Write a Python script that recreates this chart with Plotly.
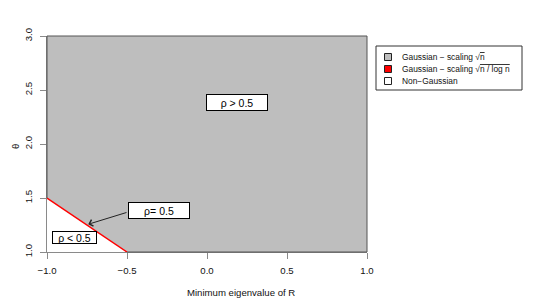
import plotly.graph_objects as go

# ---- data ----
gauss_x = [-1.0, -1.0, 1.0, 1.0, -0.5]      # Gaussian (sqrt n) region boundary
gauss_y = [1.5, 3.0, 3.0, 1.0, 1.0]
red_x = [-1.0, -0.5]                        # rho = 0.5 boundary
red_y = [1.5, 1.0]
x_ticks = [-1.0, -0.5, 0.0, 0.5, 1.0]
y_ticks = [1.0, 1.5, 2.0, 2.5, 3.0]
legend_labels = [
    "Gaussian \u2212 scaling \u221a<span style='text-decoration:overline'>n</span>",
    "Gaussian \u2212 scaling \u221a<span style='text-decoration:overline'>n / log n</span>",
    "Non\u2212Gaussian",
]
legend_colors = ["#BEBEBE", "#FF0000", "#FFFFFF"]
box_labels = ["\u03c1 > 0.5", "\u03c1= 0.5", "\u03c1 < 0.5"]
box_x = [0.19, -0.303, -0.831]
box_y = [2.38, 1.38, 1.134]
box_w = [60, 60, 43]
box_h = [15, 15, 11]
arrow_tail = (-0.494, 1.370)
arrow_tip = (-0.742, 1.257)

FONT = "Liberation Sans, Arial, sans-serif"
FRAME = "#555555"
AXC = "#8a8a8a"

fig = go.Figure()
fig.add_trace(go.Scatter(x=gauss_x, y=gauss_y, fill="toself", fillcolor="#BEBEBE",
                         mode="lines", line=dict(width=0), hoverinfo="skip",
                         showlegend=False))
fig.add_trace(go.Scatter(x=red_x, y=red_y, mode="lines",
                         line=dict(color="#FF0000", width=1.5), showlegend=False))

shapes = []
# frame edges (dark) of the grey region
shapes.append(dict(type="line", xref="paper", yref="paper", x0=0, x1=1, y0=1, y1=1,
                   line=dict(color=FRAME, width=1)))
shapes.append(dict(type="line", xref="paper", yref="paper", x0=1, x1=1, y0=0, y1=1,
                   line=dict(color=FRAME, width=1)))
shapes.append(dict(type="line", xref="paper", yref="y", x0=0, x1=0,
                   y0=gauss_y[0], y1=gauss_y[1], line=dict(color=FRAME, width=1)))
shapes.append(dict(type="line", xref="x", yref="paper", x0=gauss_x[4], x1=gauss_x[3],
                   y0=0, y1=0, line=dict(color=FRAME, width=1)))

# page pixel -> paper coordinates (plot area spans page px 47..367, 36..252)
def px2x(px):
    return (px - 47) / 320.0

def py2y(py):
    return (252 - py) / 216.0

shapes.append(dict(type="rect", xref="paper", yref="paper",
                   x0=px2x(376), x1=px2x(522), y0=py2y(90), y1=py2y(46),
                   line=dict(color="#333333", width=1), fillcolor="white"))
annotations = []
rows = [57, 69, 81]
for lab, col, ry in zip(legend_labels, legend_colors, rows):
    shapes.append(dict(type="rect", xref="paper", yref="paper",
                       x0=px2x(384.5), x1=px2x(391.5), y0=py2y(ry + 3.5), y1=py2y(ry - 3.5),
                       line=dict(color="#222222", width=1), fillcolor=col))
    annotations.append(dict(xref="paper", yref="paper", x=px2x(400), y=py2y(ry),
                            xanchor="left", yanchor="middle", showarrow=False,
                            text=lab, font=dict(family=FONT, size=8.4, color="#111111")))

for t, bx, by, w, h in zip(box_labels, box_x, box_y, box_w, box_h):
    annotations.append(dict(x=bx, y=by, xref="x", yref="y", text=t, showarrow=False,
                            font=dict(family=FONT, size=10.5, color="black"),
                            bgcolor="white", bordercolor="black", borderwidth=1,
                            borderpad=0, width=w, height=h, align="center",
                            valign="middle"))

annotations.append(dict(x=arrow_tip[0], y=arrow_tip[1], ax=arrow_tail[0], ay=arrow_tail[1],
                        xref="x", yref="y", axref="x", ayref="y", text="",
                        showarrow=True, arrowhead=4, arrowsize=1.3, arrowwidth=1,
                        arrowcolor="#222222", standoff=0, startstandoff=0))

# axis titles
annotations.append(dict(xref="paper", yref="paper", x=px2x(240.5), y=py2y(292),
                        text="Minimum eigenvalue of R", showarrow=False,
                        xanchor="center", yanchor="middle",
                        font=dict(family=FONT, size=9.6, color="#111111")))
annotations.append(dict(xref="paper", yref="paper", x=px2x(15), y=py2y(147),
                        text="\u03b8", showarrow=False, textangle=-90,
                        xanchor="center", yanchor="middle",
                        font=dict(family=FONT, size=9.6, color="#111111")))

# the page body has an 8px margin, so the figure is sized/offset to compensate
fig.update_layout(
    width=532, height=292,
    margin=dict(l=39, r=173, t=28, b=48),
    paper_bgcolor="white", plot_bgcolor="white",
    shapes=shapes, annotations=annotations, showlegend=False,
    font=dict(family=FONT, size=9.6, color="#111111"),
)
fig.update_xaxes(range=[-1, 1], tickvals=x_ticks, tickformat=".1f", showgrid=False,
                 zeroline=False, showline=True, linecolor=AXC, linewidth=1,
                 ticks="outside", ticklen=6, tickcolor=AXC, tickwidth=1,
                 ticklabelstandoff=3,
                 tickfont=dict(family=FONT, size=9.6, color="#111111"))
fig.update_yaxes(range=[1, 3], tickvals=y_ticks, tickformat=".1f", showgrid=False,
                 zeroline=False, showline=True, linecolor=AXC, linewidth=1,
                 ticks="outside", ticklen=6, tickcolor=AXC, tickwidth=1, tickangle=-90,
                 ticklabelstandoff=4,
                 tickfont=dict(family=FONT, size=9.6, color="#111111"))

fig.write_html("out.html")
